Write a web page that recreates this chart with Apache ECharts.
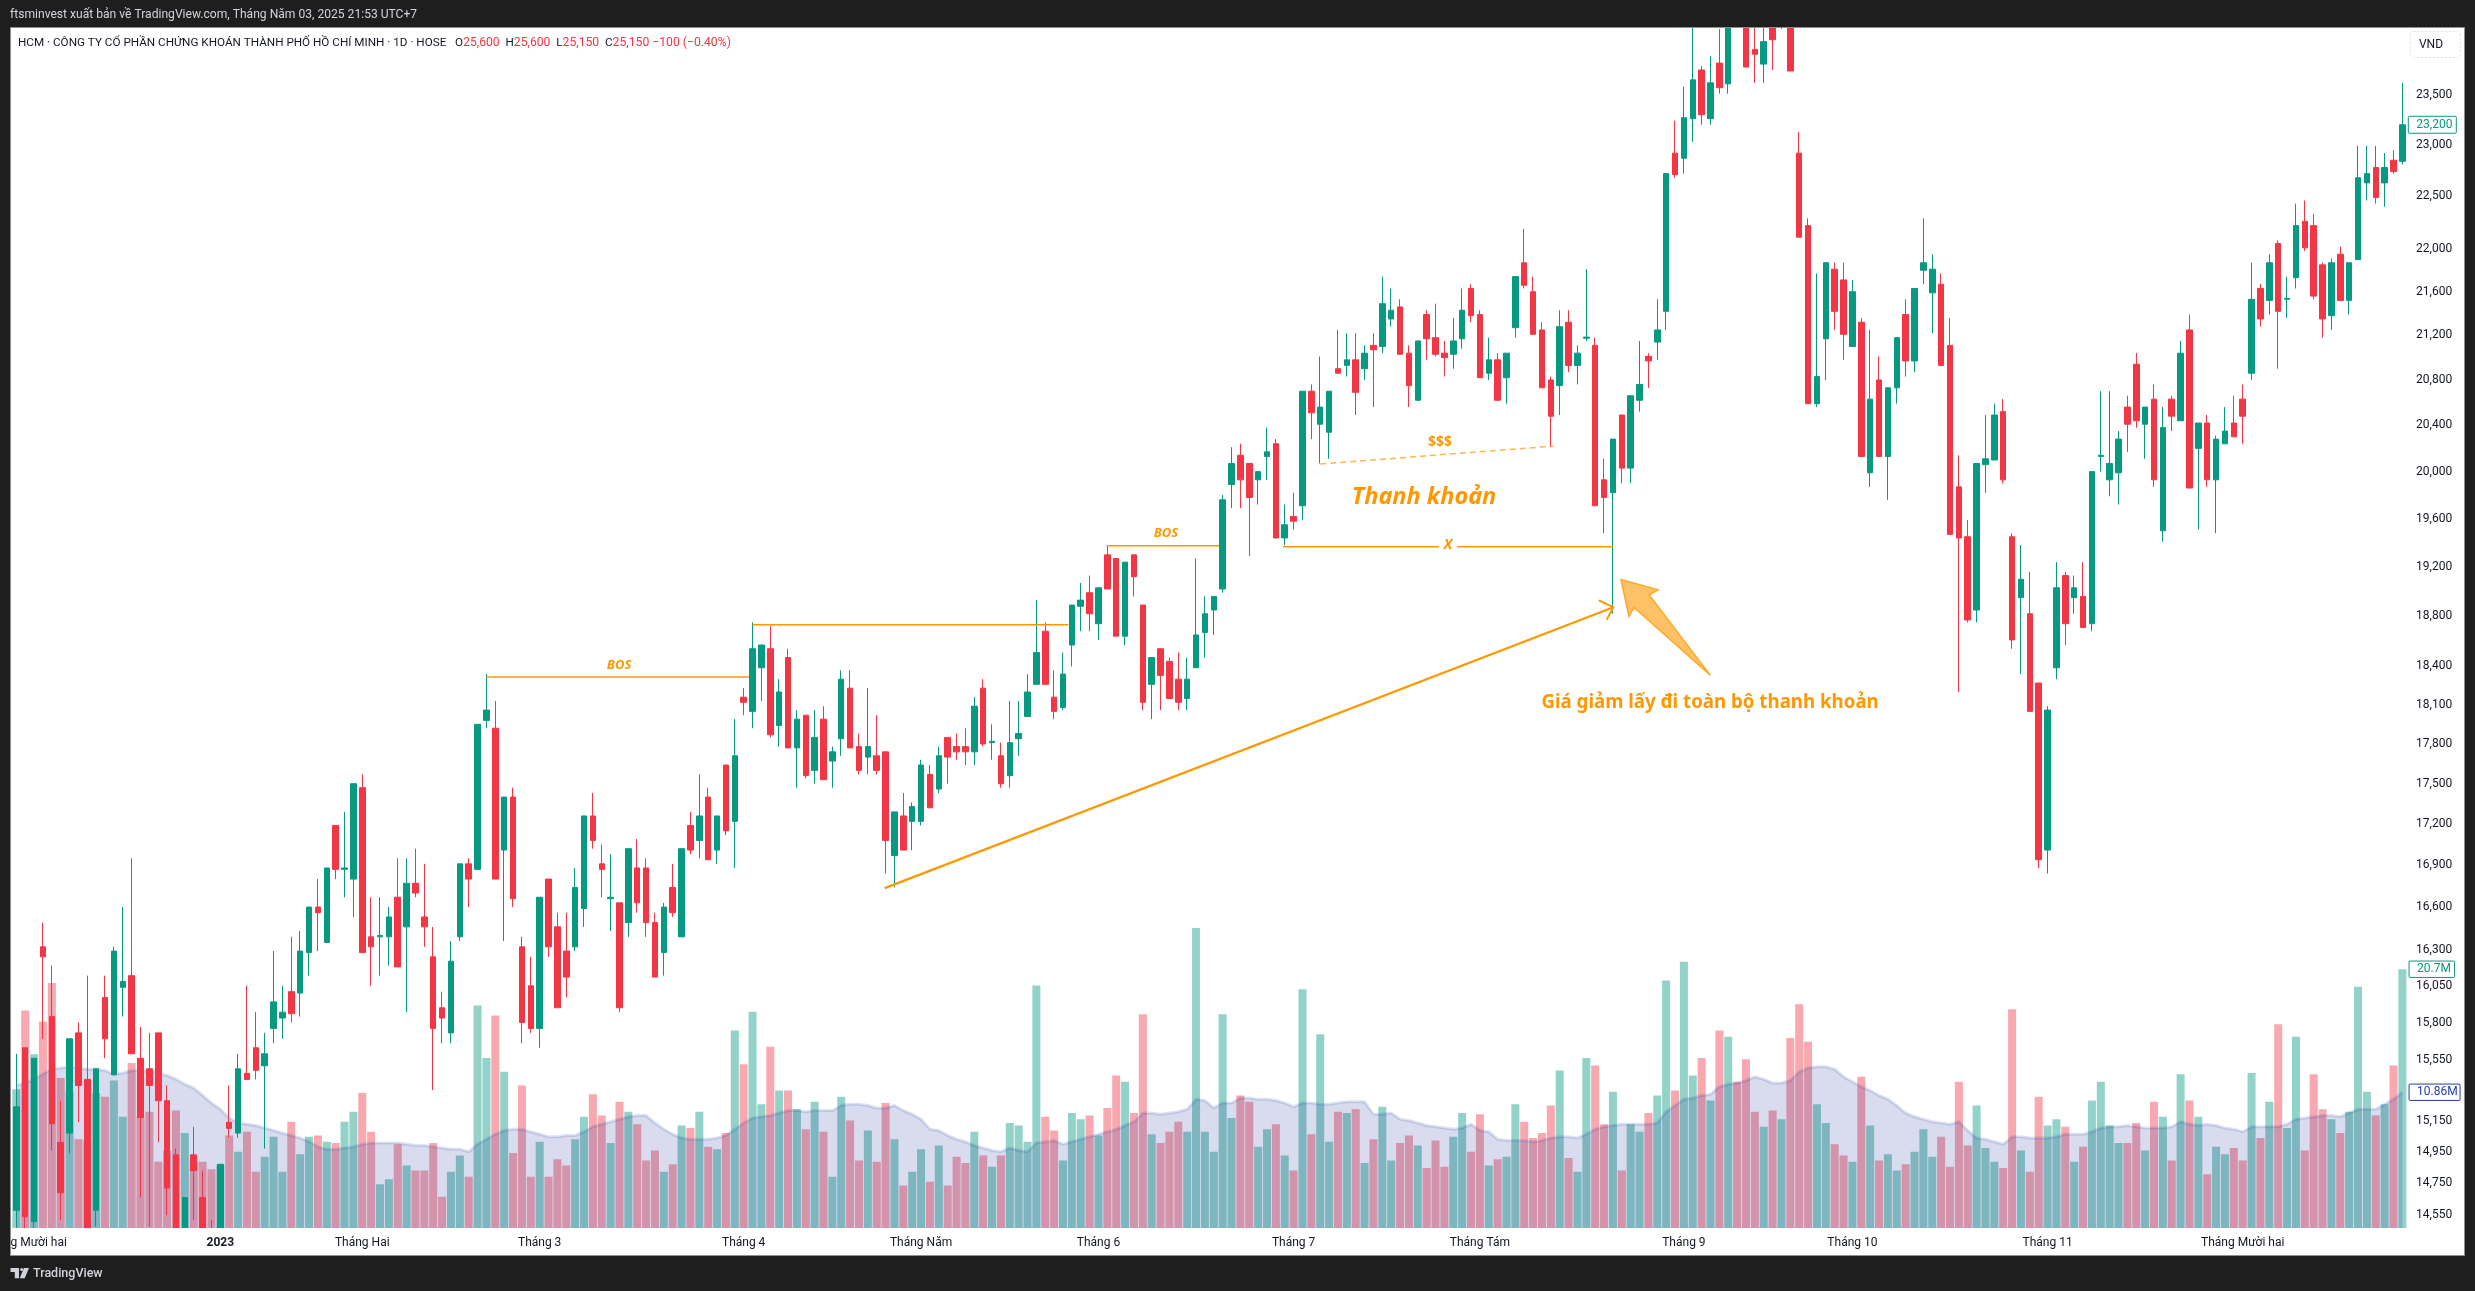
<!DOCTYPE html>
<html>
<head>
<meta charset="utf-8" />
<title>HCM 1D</title>
<script src="https://cdn.jsdelivr.net/npm/echarts@6/dist/echarts.min.js"></script>
<style>
  html, body { margin: 0; padding: 0; background: #1e1e1e; }
  #chart { width: 2475px; height: 1291px; }
</style>
</head>
<body>
<div id="chart"></div>
<script>
const opens = [
  14580,15630,14510,16320,15840,15010,15070,15730,15420,14580,
  15970,15450,16040,16120,15560,15490,15730,15280,14930,14390,
  14930,14660,14430,14360,15140,15070,15460,15630,15510,15760,
  15830,16010,16000,16280,16600,16350,17190,16870,16800,17470,
  16390,16390,16390,16670,16460,16770,16530,16250,15900,15730,
  16390,16910,16870,17980,17920,17010,17400,16320,16050,15760,
  16800,16460,16290,16320,16590,17260,16910,16660,16630,16490,
  16880,16880,16490,16280,16740,16390,17190,17080,17400,17010,
  17640,17220,18160,18050,18390,18540,17940,18470,17770,18020,
  17600,17990,17670,17840,18230,17780,17700,17710,17740,16970,
  17260,17220,17220,17570,17460,17850,17780,17780,17740,18230,
  17810,17710,17560,17840,18010,18260,18680,18160,18080,18570,
  18880,18990,18740,19300,19270,18640,19300,18890,18260,18540,
  18440,18300,18150,18390,18670,18850,19020,19890,20140,20070,
  19930,20130,20240,19440,19620,19710,20700,20410,20340,20900,
  20930,20980,20900,21110,21100,21350,21460,21040,20620,21390,
  21180,21040,21030,21170,21630,21390,20860,20980,20820,21270,
  21870,21600,21250,20800,20750,21320,20930,21175,21110,19930,
  19820,20490,20030,20620,21010,21140,21420,22920,22870,23260,
  23750,23260,23820,23610,24600,24400,23960,23810,24300,24250,
  24400,22920,22220,20590,21170,21810,21710,21100,21320,19990,
  20800,20130,20730,21390,20970,21800,21590,21670,21110,19870,
  19450,18850,20060,20100,20520,19450,18950,18820,18270,17010,
  18390,19130,18950,18960,18740,20130,19930,19990,20560,20940,
  20410,20630,19500,20630,20440,21250,20200,20420,19930,20240,
  20420,20630,20860,21630,21520,22050,21530,21730,22260,22220,
  21850,21380,21950,21520,21900,22630,22780,22630,22850,22840
];
const closes = [
  15240,14540,15560,16250,15130,14690,15690,15380,14430,15490,
  15690,16290,16080,15590,15170,15380,15280,14720,14430,14660,
  14830,14390,14360,14870,15100,15490,15420,15480,15590,15940,
  15870,15860,16290,16600,16560,16880,16870,16880,17500,16280,
  16320,16400,16530,16180,16770,16700,16460,15760,15830,16220,
  16910,16800,17950,18060,16800,17400,16660,15800,15760,16670,
  16320,15900,16110,16740,17260,17080,16870,16670,15900,17020,
  16630,16490,16110,16600,16560,17020,17010,17260,16940,17260,
  17150,17710,18120,18540,18570,17870,18200,17770,17990,17560,
  17850,17530,17740,18300,17770,17600,17780,17600,17080,17290,
  17010,17330,17640,17320,17710,17700,17740,17740,18090,17800,
  17820,17500,17810,17880,18200,18510,18260,18050,18340,18890,
  18930,18820,19030,19020,18640,19240,19120,18120,18470,18330,
  18150,18120,18300,18650,18820,18960,19760,20070,19930,19780,
  20000,20170,19440,19550,19580,20700,20510,20560,20700,20860,
  20980,20690,21040,21070,21490,21430,21030,20750,21150,21170,
  21030,21000,21150,21430,21380,20820,20980,20620,21040,21740,
  21660,21210,20730,20480,21280,20930,21040,21185,19710,19780,
  20280,20030,20660,20760,20970,21250,22720,22710,23270,23650,
  23300,23620,23570,24260,24350,23780,23910,24040,24060,24450,
  23740,22110,20590,20830,21870,21420,21210,21600,20130,20630,
  20130,20730,21180,20970,21630,21870,21810,20930,19470,19440,
  18770,20070,20110,20490,19930,18610,19100,18050,16940,18060,
  19030,18740,19030,18710,20000,20140,20070,20280,20410,20440,
  20560,19930,20380,20480,21040,19860,20420,19930,20280,20350,
  20300,20480,21530,21350,21870,21420,21540,22220,22010,21560,
  21350,21870,21520,21870,22680,22720,22490,22780,22740,23200
];
const lows = [
  14430,14470,14460,15690,14960,14520,14940,15140,14400,14480,
  15560,15450,15840,15590,14660,14480,15010,14550,14400,14380,
  14520,14380,14350,14350,15040,15040,15420,15420,14970,15660,
  15690,15800,15840,16120,16290,16350,16800,16670,16530,16280,
  16050,16120,16190,16180,15870,16670,16320,15350,15660,15660,
  16360,16600,16870,17920,16800,16360,16600,15660,15730,15630,
  16250,15900,15970,16290,16460,17020,16670,16430,15870,16390,
  16560,16390,16110,16120,16530,16390,16980,16950,16940,16910,
  17120,16880,18020,17920,18130,17850,17780,17770,17470,17540,
  17500,17530,17470,17710,17770,17570,17570,17570,16840,16740,
  17010,17010,17190,17320,17430,17500,17680,17640,17640,17780,
  17680,17470,17470,17710,18010,18260,18260,17990,18060,18400,
  18680,18680,18610,19020,18640,18570,18960,18060,17990,18060,
  18150,18060,18060,18390,18470,18650,18990,19690,19690,19290,
  19720,19930,19440,19380,19510,19590,20280,20070,20110,20860,
  20830,20490,20800,20560,21040,21280,21030,20560,20620,20980,
  21010,20830,20900,21080,21320,20820,20800,20620,20590,21180,
  21630,21210,20730,20210,20490,20870,20760,21150,19710,19480,
  18820,19900,19900,20520,20730,20980,21250,22680,22720,23030,
  23200,23200,23510,23510,24250,23780,23620,23620,23750,24170,
  23740,22110,20590,20560,20800,21250,20980,21100,20130,19870,
  20130,19760,20590,20830,20870,21670,21220,20930,19470,18200,
  18750,18750,19820,20100,19900,18540,18340,18050,16880,16840,
  18300,18570,18820,18710,18680,20000,19790,19720,20170,20380,
  20110,19870,19410,20350,20440,19860,19510,19870,19480,20240,
  20300,20240,20800,21280,21390,20900,21360,21630,21980,21530,
  21180,21250,21520,21390,21900,22460,22430,22400,22720,22810
];
const highs = [
  15590,15630,15560,16490,16190,15280,15690,15800,16120,15490,
  16120,16320,16600,16950,15770,15730,15730,15380,14970,14660,
  15110,14830,14520,14870,15380,15590,16050,15870,15730,16290,
  16050,16390,16430,16600,16800,16880,17190,17290,17500,17570,
  16670,16670,16600,16950,16950,17020,16910,16460,16010,16360,
  16910,16950,17950,18340,18130,17400,17470,16390,16250,16670,
  16800,16560,16560,16880,17260,17430,17050,16980,16630,17020,
  17090,16950,16560,16630,16910,17020,17290,17570,17470,17260,
  17640,17990,18230,18750,18570,18720,18300,18540,18060,18020,
  18060,18090,17780,18370,18370,17880,18230,18020,17740,17290,
  17430,17360,17680,17640,17780,17850,17880,17920,18160,18300,
  17950,17810,18130,18130,18340,18930,18750,18370,18510,18890,
  19070,19130,19030,19380,19270,19240,19300,18890,18470,18540,
  18470,18510,18470,19270,18960,18960,19800,20210,20240,20070,
  20000,20380,20280,19720,19820,20700,20760,21010,20700,21250,
  21220,21220,21110,21220,21740,21630,21530,21110,21150,21430,
  21490,21150,21360,21630,21670,21430,21180,21040,21040,21740,
  22190,21740,21320,20830,21430,21430,21110,21810,21180,20110,
  20280,20490,20660,21150,21040,21530,22720,23240,23580,24400,
  23790,23890,24170,24400,24700,24500,24350,24350,24400,24500,
  24500,23130,22290,21770,21870,21870,21870,21710,21360,21250,
  21010,20730,21180,21530,21630,22290,21950,21770,21360,20140,
  19590,20070,20490,20590,20630,19480,19380,19160,18270,18090,
  19240,19160,19130,19240,20000,20700,20700,20350,20660,21040,
  20560,20760,20560,20660,21150,21390,20420,20490,20310,20560,
  20660,20760,21870,21670,21950,22080,21740,22430,22460,22330,
  21870,21910,22020,21870,22990,22990,22990,22920,22950,23620
];
// volume in millions
const volumes = [
  11.1,17.4,13.9,16.5,19.6,12.0,10.9,7.1,7.0,10.8,
  10.5,11.8,8.9,13.2,8.9,9.3,5.3,6.2,9.4,7.6,
  5.3,5.3,4.7,5.0,7.4,6.1,7.7,4.5,5.7,7.3,
  4.5,8.5,5.9,7.3,7.4,6.9,6.8,8.5,9.3,10.8,
  7.7,3.5,3.9,6.7,5.0,4.6,4.6,6.8,2.5,4.5,
  5.8,4.1,17.8,13.6,17.0,12.5,6.0,11.4,4.1,6.9,
  4.1,5.5,5.0,7.1,8.9,10.7,9.0,6.8,10.1,9.3,
  8.3,5.4,6.2,4.5,5.1,8.2,8.0,9.3,6.5,6.3,
  7.6,15.8,13.1,17.3,9.9,14.5,11.0,11.0,9.5,7.9,
  10.1,7.7,4.1,10.5,8.6,5.4,7.8,5.3,10.0,7.1,
  3.4,4.5,6.3,3.7,6.6,3.4,5.7,5.2,7.7,5.8,
  4.9,5.8,8.4,8.2,6.9,19.4,8.9,7.8,5.4,9.2,
  8.7,9.0,7.4,9.6,12.2,11.7,9.2,17.1,7.5,6.8,
  7.7,8.5,7.7,24.0,7.7,6.1,17.1,8.8,10.6,10.1,
  6.5,7.9,8.3,5.8,4.6,19.1,7.5,15.5,6.9,9.3,
  9.2,9.5,5.2,7.1,9.7,5.4,6.8,7.4,6.6,4.8,
  7.0,4.9,7.3,9.2,6.1,9.1,5.0,5.5,5.7,9.9,
  8.5,7.2,7.6,9.8,12.6,5.6,4.5,13.6,13.0,8.3,
  10.9,4.6,8.3,7.7,9.2,10.6,19.8,11.0,21.3,12.2,
  13.6,10.2,15.8,15.3,11.7,13.5,9.3,8.1,9.4,8.7,
  15.2,17.9,14.9,9.9,8.4,6.7,5.8,5.3,12.1,8.2,
  5.4,5.9,4.6,5.1,6.1,7.9,5.7,7.3,4.9,11.7,
  6.6,9.8,6.4,5.3,4.8,17.5,6.2,4.5,10.5,8.2,
  8.7,8.1,5.3,6.5,10.2,11.7,8.2,6.8,6.8,8.4,
  6.2,10.1,8.9,5.4,12.3,10.2,8.9,4.3,6.5,5.9,
  6.4,5.4,12.4,7.2,10.1,16.3,8.0,15.3,6.2,12.3,
  9.5,8.7,7.6,9.3,19.3,10.9,9.0,9.9,13.0,20.7
];
const volumeMa = [
  11.4,11.6,11.9,12.3,12.7,12.8,12.9,12.8,12.7,12.7,
  12.6,12.3,12.4,12.6,12.6,12.5,12.4,12.2,11.9,11.5,
  11.2,10.6,10.0,9.5,8.8,8.4,8.3,8.2,8.0,7.8,
  7.6,7.4,7.2,6.9,6.5,6.3,6.3,6.4,6.5,6.7,
  6.8,6.8,6.8,6.8,6.7,6.6,6.6,6.5,6.4,6.3,
  6.3,6.1,6.7,7.1,7.5,7.8,7.9,7.9,7.7,7.5,
  7.3,7.3,7.4,7.4,7.7,8.1,8.3,8.5,8.7,8.9,
  9.0,9.0,8.4,7.9,7.5,7.2,7.1,7.1,7.1,7.2,
  7.4,7.9,8.4,8.8,8.9,9.0,9.2,9.4,9.4,9.3,
  9.4,9.4,9.4,9.8,9.9,9.9,9.8,9.6,9.6,9.8,
  9.4,9.1,8.7,7.9,7.8,7.4,7.1,6.9,6.6,6.4,
  6.2,6.1,6.4,6.2,6.1,6.8,6.9,7.0,6.7,6.9,
  7.1,7.3,7.5,7.7,7.9,8.2,8.5,9.2,9.2,9.1,
  9.2,9.3,9.5,10.3,10.2,9.6,10.0,10.0,10.4,10.4,
  10.3,10.3,10.2,10.0,9.7,10.0,10.0,9.9,9.9,10.0,
  10.1,10.1,10.1,9.1,9.1,9.2,8.7,8.6,8.4,8.2,
  8.1,8.0,7.9,8.0,8.3,7.8,7.7,7.1,7.0,7.0,
  7.0,6.9,7.0,7.2,7.3,7.3,7.2,7.5,7.9,8.1,
  8.2,8.3,8.3,8.3,8.3,8.4,9.3,9.8,10.3,10.4,
  10.6,10.7,11.3,11.5,11.6,11.8,12.1,11.9,11.6,11.6,
  11.8,12.5,12.8,12.9,12.9,12.7,12.1,11.7,11.3,11.0,
  10.6,10.3,9.8,9.2,8.9,8.7,8.5,8.4,8.3,8.5,
  7.8,7.2,7.1,6.9,6.7,7.3,7.3,7.2,7.2,7.2,
  7.3,7.5,7.5,7.5,7.7,8.0,8.1,8.1,8.2,8.1,
  8.0,8.0,8.0,8.1,8.5,8.3,8.2,8.3,8.2,8.0,
  7.9,7.7,8.1,8.1,8.1,8.1,8.3,8.7,8.8,8.9,
  9.0,9.0,8.9,9.2,9.5,9.5,9.5,9.9,10.3,10.86
];

const priceTicks = [23500,23000,22500,22000,21600,21200,20800,20400,20000,19600,19200,18800,18400,18100,17800,17500,17200,16900,16600,16300,16050,15800,15550,15150,14950,14750,14550];
const monthBars = [1,23,39,59,82,102,122,144,165,188,207,229,251];
const monthLabels = ["Tháng Mười hai","2023","Tháng Hai","Tháng 3","Tháng 4","Tháng Năm","Tháng 6","Tháng 7","Tháng Tám","Tháng 9","Tháng 10","Tháng 11","Tháng Mười hai"];

// drawings on the chart, [bar, price]
const bosLines = [
  [[53, 18318], [82.6, 18318]],
  [[83, 18732], [118.6, 18732]],
  [[123, 19376], [135.6, 19376]],
  [[142.8, 19368], [180, 19368]]
];
const dashedLine = [[147, 20065], [173.3, 20220]];
const longArrow = [[97.9, 16735], [180.05, 18873]];
const longArrowHead = [[178.4, 18928], [180.05, 18873], [179.3, 18772]];
const bigArrow = [[180.9, 19098], [185.1, 19015], [184.1, 18971], [191, 18330], [182.4, 18869], [181.8, 18798]];
const chartTexts = [
  { at: [67.95, 18408], text: "BOS", font: "italic bold 13px 'Noto Sans'" },
  { at: [129.6, 19480], text: "BOS", font: "italic bold 13px 'Noto Sans'" },
  { at: [161.4, 19379], text: "X", font: "italic bold 14px 'Noto Sans'", gap: true },
  { at: [160.5, 20254], text: "$$$", font: "bold 14px 'Noto Sans'" },
  { at: [158.7, 19780], text: "Thanh khoản", font: "italic bold 23.5px 'Noto Sans'" },
  { at: [190.95, 18114], text: "Giá giảm lấy đi toàn bộ thanh khoản", font: "bold 18.7px 'Noto Sans'" }
];

const upColor = "#089981";
const downColor = "#F23645";
const orange = "#FF9800";
const uiFont = "Roboto";

const candleData = opens.map((open, i) => [open, closes[i], lows[i], highs[i]]);
const volumeData = volumes.map((value, i) => ({
  value,
  itemStyle: { color: closes[i] >= opens[i] ? "rgba(8,153,129,0.44)" : "rgba(242,54,69,0.43)" }
}));
const categories = opens.map((o, i) => String(i));

function renderDrawings(params, api) {
  const pt = (p) => api.coord(p);
  const children = [];
  const stroke = { stroke: orange, fill: null, lineWidth: 1.5 };

  bosLines.forEach((line) => {
    children.push({ type: "polyline", shape: { points: line.map(pt) }, style: stroke });
  });
  children.push({
    type: "polyline",
    shape: { points: dashedLine.map(pt) },
    style: { stroke: "rgba(255,152,0,0.7)", fill: null, lineWidth: 1.5, lineDash: [6, 4] }
  });
  children.push({ type: "polyline", shape: { points: longArrow.map(pt) }, style: { stroke: orange, fill: null, lineWidth: 2.2 } });
  children.push({ type: "polyline", shape: { points: longArrowHead.map(pt) }, style: { stroke: orange, fill: null, lineWidth: 2 } });
  children.push({
    type: "polygon",
    shape: { points: bigArrow.map(pt) },
    style: { fill: "rgba(255,152,0,0.6)", stroke: "rgba(255,152,0,0.75)", lineWidth: 1.5 }
  });

  chartTexts.forEach((t) => {
    const p = pt(t.at);
    children.push({
      type: "text",
      style: {
        text: t.text, x: p[0], y: p[1], font: t.font, fill: orange,
        align: "center", verticalAlign: "middle",
        backgroundColor: t.gap ? "#fff" : null,
        padding: t.gap ? [0, 5] : 0
      }
    });
  });

  // value tag on the price scale
  const axisRight = api.coord([269.5, 23200])[0];
  const tagY = api.coord([0, 23200])[1];
  children.push({
    type: "rect",
    shape: { x: axisRight + 1.5, y: tagY - 8.5, width: 48, height: 17, r: 1 },
    style: { fill: "#fff", stroke: upColor, lineWidth: 1 }
  });
  children.push({
    type: "text",
    style: { text: "23,200", x: axisRight + 9.5, y: tagY, font: "12px " + uiFont, fill: upColor, align: "left", verticalAlign: "middle" }
  });
  return { type: "group", children };
}

const chart = echarts.init(document.getElementById("chart"));

const gridBox = { left: 11.9, right: 68.2, top: 27, bottom: 63, outerBoundsMode: "none" };

chart.setOption({
  animation: false,
  backgroundColor: "#1e1e1e",
  title: {
    left: 18,
    top: 37,
    padding: 0,
    z: 60,
    text:
      "HCM · CÔNG TY CỔ PHẦN CHỨNG KHOÁN THÀNH PHỐ HỒ CHÍ MINH · 1D · HOSE   " +
      "O{v|25,600}  H{v|25,600}  L{v|25,150}  C{v|25,150 −100 (−0.40%)}",
    textStyle: {
      fontFamily: uiFont, fontSize: 11.7, fontWeight: "normal", color: "#131722",
      rich: { v: { fontFamily: uiFont, fontSize: 12.2, color: downColor } }
    }
  },
  grid: [gridBox, gridBox],
  xAxis: [
    { type: "category", gridIndex: 0, data: categories, show: false },
    { type: "value", gridIndex: 0, min: -0.5, max: 269.5, show: false },
    {
      type: "category",
      gridIndex: 1,
      data: categories,
      z: 6,
      axisLine: { show: false },
      axisTick: { show: false },
      axisLabel: {
        interval: (i) => monthBars.includes(i),
        margin: 9,
        fontFamily: uiFont,
        fontSize: 12,
        color: "#131722",
        formatter: (v, i) => {
          const label = monthLabels[monthBars.indexOf(i)];
          return label === "2023" ? "{b|2023}" : label;
        },
        rich: { b: { fontFamily: uiFont, fontSize: 12, fontWeight: "bold", color: "#131722" } }
      }
    }
  ],
  yAxis: [
    {
      type: "log",
      gridIndex: 0,
      position: "right",
      min: 14470,
      max: 24191,
      axisLine: { show: false },
      axisTick: { show: false },
      splitLine: { show: false },
      axisLabel: {
        customValues: priceTicks,
        margin: 9.3,
        fontFamily: uiFont,
        fontSize: 12,
        color: "#131722",
        hideOverlap: false,
        formatter: (v) => Number(v).toLocaleString("en-US")
      }
    },
    { type: "value", gridIndex: 1, min: 0, max: 96.08, show: false }
  ],
  series: [
    {
      name: "Volume",
      type: "bar",
      xAxisIndex: 2,
      yAxisIndex: 1,
      z: 1,
      barWidth: 8,
      data: volumeData
    },
    {
      name: "Volume MA",
      type: "line",
      xAxisIndex: 2,
      yAxisIndex: 1,
      z: 2,
      symbol: "none",
      data: volumeMa,
      lineStyle: { color: "rgba(11,36,149,0.13)", width: 3 },
      areaStyle: { color: "rgba(11,36,149,0.16)", opacity: 1 }
    },
    {
      name: "HCM",
      type: "candlestick",
      xAxisIndex: 0,
      yAxisIndex: 0,
      z: 3,
      barWidth: 6,
      clip: true,
      data: candleData,
      itemStyle: {
        color: upColor,
        color0: downColor,
        borderColor: upColor,
        borderColor0: downColor,
        borderWidth: 1
      }
    },
    {
      name: "Drawings",
      type: "custom",
      xAxisIndex: 1,
      yAxisIndex: 0,
      z: 5,
      silent: true,
      data: [[0, 20000]],
      renderItem: renderDrawings
    },
    {
      // tags for the volume pane
      name: "Volume tags",
      type: "custom",
      xAxisIndex: 2,
      yAxisIndex: 1,
      z: 5,
      silent: true,
      data: [[269, 20.7], [269, 10.86]],
      renderItem: (params, api) => {
        const p = api.coord([269, api.value(1)]);
        const label = params.dataIndex === 0 ? "20.7M" : "10.86M";
        const color = params.dataIndex === 0 ? upColor : "#1f3fa3";
        const w = params.dataIndex === 0 ? 45.5 : 51;
        const x = p[0] + 6.7;
        return {
          type: "group",
          children: [
            { type: "rect", shape: { x, y: p[1] - 8.2, width: w, height: 16.4, r: 1 }, style: { fill: "#fff", stroke: color, lineWidth: 1 } },
            { type: "text", style: { text: label, x: x + 8, y: p[1], font: "12px " + uiFont, fill: color, align: "left", verticalAlign: "middle" } }
          ]
        };
      }
    }
  ],
  graphic: [
    { type: "rect", z: -10, shape: { x: 10.5, y: 27.5, width: 2454, height: 1228 }, style: { fill: "#fff", stroke: "#8f8f8f", lineWidth: 1 } },
    // candles that run off the pane stop at its edges
    { type: "rect", z: 4, shape: { x: 11, y: 1228, width: 2453, height: 27 }, style: { fill: "#fff" } },
    { type: "rect", z: 100, shape: { x: 0, y: 0, width: 2475, height: 27 }, style: { fill: "#1e1e1e" } },
    { type: "rect", z: 100, shape: { x: 0, y: 0, width: 10, height: 1291 }, style: { fill: "#1e1e1e" } },
    { type: "line", z: 101, shape: { x1: 10.5, y1: 27.5, x2: 2464.5, y2: 27.5 }, style: { stroke: "#8f8f8f", lineWidth: 1 } },
    { type: "line", z: 101, shape: { x1: 10.5, y1: 27, x2: 10.5, y2: 1256 }, style: { stroke: "#8f8f8f", lineWidth: 1 } },
    { type: "text", z: 101, style: { text: "ftsminvest xuất bản về TradingView.com, Tháng Năm 03, 2025 21:53 UTC+7", x: 10, y: 14.7, font: "12.1px " + uiFont, fill: "#d1d4dc", verticalAlign: "middle" } },
    { type: "rect", z: 50, shape: { x: 2410.5, y: 31.5, width: 50, height: 26, r: 3 }, style: { fill: "#fff", stroke: "#dfe1ee", lineWidth: 1, lineDash: [2, 2] } },
    { type: "text", z: 51, style: { text: "VND", x: 2431, y: 44.7, font: "12px " + uiFont, fill: "#131722", align: "center", verticalAlign: "middle" } },
    { type: "polygon", z: 100, shape: { points: [[10.5,1268],[19,1268],[19,1278.2],[14.8,1278.2],[14.8,1272.1],[10.5,1272.1]] }, style: { fill: "#d1d4dc" } },
    { type: "polygon", z: 100, shape: { points: [[24.7,1278.2],[19.7,1278.2],[24,1268],[29,1268]] }, style: { fill: "#d1d4dc" } },
    { type: "circle", z: 100, shape: { cx: 21.7, cy: 1269.6, r: 1.5 }, style: { fill: "#d1d4dc" } },
    { type: "text", z: 100, style: { text: "TradingView", x: 33, y: 1273.7, font: "500 12.5px " + uiFont, fill: "#d1d4dc", verticalAlign: "middle" } }
  ]
});
</script>
</body>
</html>
